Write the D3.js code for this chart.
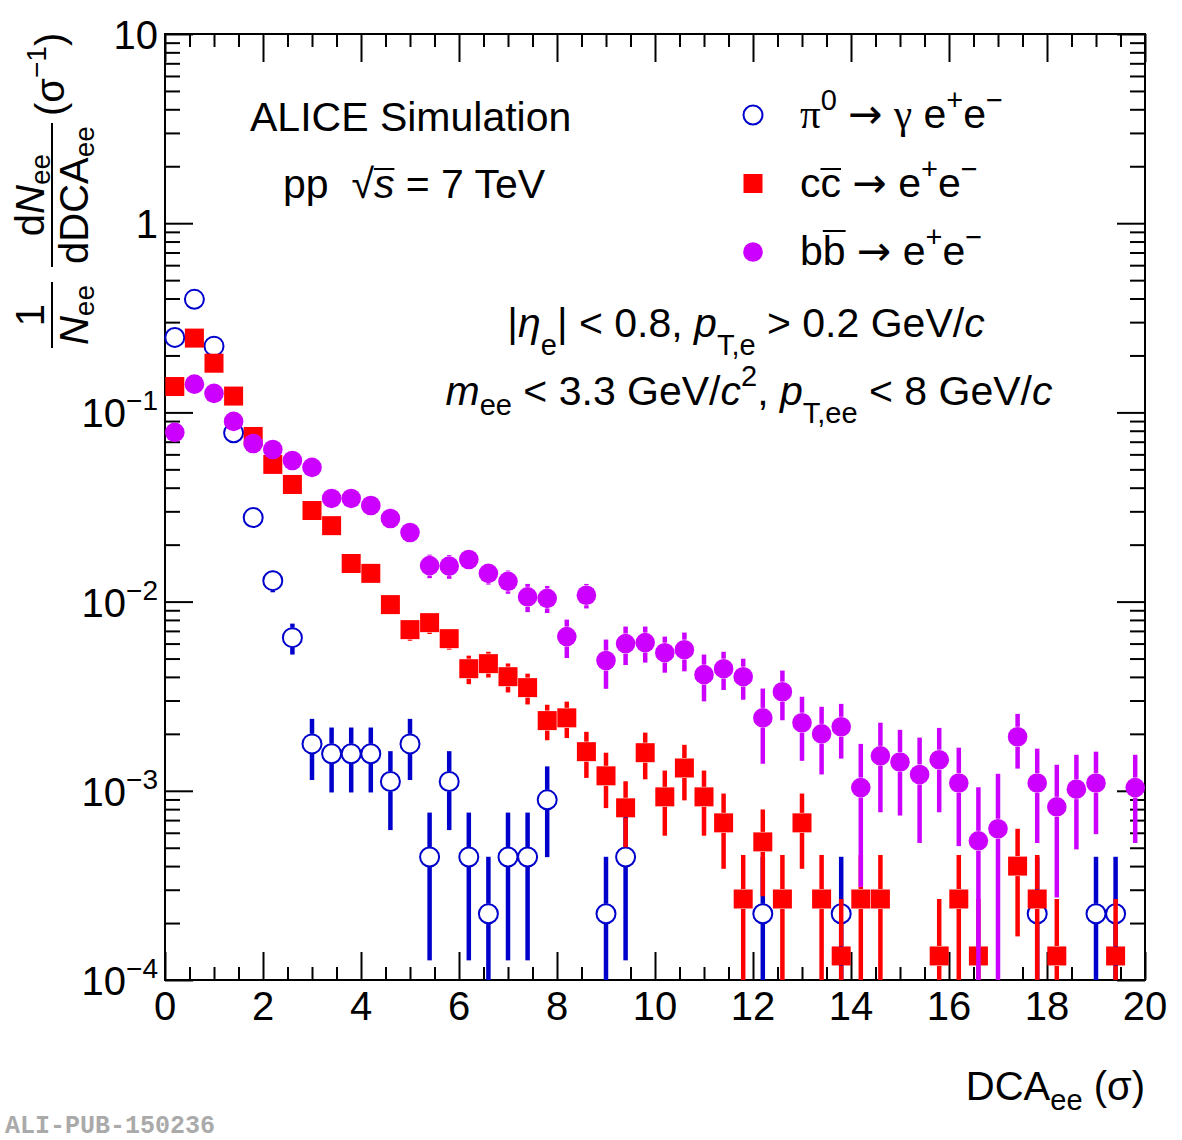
<!DOCTYPE html>
<html lang="en">
<head>
<meta charset="UTF-8">
<title>DCA_ee distributions</title>
<script src="https://d3js.org/d3.v7.min.js"></script>
<style>
  body { margin: 0; background: #fff; }
  svg { display: block; }
  text { font-family: "Liberation Sans", Arial, Helvetica, sans-serif; fill: #000; }
  .axis path { display: none; }
  .axis line { stroke: #000; stroke-width: 2px; }
</style>
</head>
<body>
<svg width="1182" height="1140"></svg>
<script>
// ---- data (bin centres of 0.4 sigma bins) ----
const pi0X = [0.2, 0.6, 1.0, 1.4, 1.8, 2.2, 2.6, 3.0, 3.4, 3.8, 4.2, 4.6, 5.0, 5.4, 5.8, 6.2, 6.6, 7.0, 7.4, 7.8,
              9.0, 9.4, 12.2, 13.8, 17.8, 19.0, 19.4];
const pi0Y = [0.249, 0.396, 0.224, 0.078, 0.0278, 0.0129, 0.00645, 0.00177, 0.00157, 0.00157, 0.00157, 0.00112,
              0.00177, 0.000447, 0.00112, 0.000447, 0.000224, 0.000447, 0.000447, 0.000896,
              0.000224, 0.000447, 0.000224, 0.000224, 0.000224, 0.000224, 0.000224];
const pi0Err = [0.0075, 0.0094, 0.0071, 0.0042, 0.0025, 0.0017, 0.0012, 0.00063, 0.00059, 0.00059, 0.00059, 0.0005,
                0.00063, 0.00032, 0.0005, 0.00032, 0.000224, 0.00032, 0.00032, 0.00045,
                0.000224, 0.00032, 0.000224, 0.000224, 0.000224, 0.000224, 0.000224];

const ccX = [0.2, 0.6, 1.0, 1.4, 1.8, 2.2, 2.6, 3.0, 3.4, 3.8, 4.2, 4.6, 5.0, 5.4, 5.8, 6.2, 6.6, 7.0, 7.4, 7.8,
             8.2, 8.6, 9.0, 9.4, 9.8, 10.2, 10.6, 11.0, 11.4, 11.8, 12.2, 12.6, 13.0, 13.4, 13.8, 14.2, 14.6,
             15.8, 16.2, 16.6, 17.4, 17.8, 18.2, 19.4];
const ccY = [0.137, 0.247, 0.182, 0.122, 0.0746, 0.0531, 0.0416, 0.0303, 0.0252, 0.0159, 0.0141, 0.00964, 0.00711,
             0.00774, 0.00637, 0.00442, 0.0047, 0.00401, 0.00351, 0.00235, 0.00243, 0.00161, 0.0012, 0.000813,
             0.00159, 0.000929, 0.00132, 0.000929, 0.000677, 0.000268, 0.000537, 0.000268, 0.000677, 0.000268,
             0.000134, 0.000268, 0.000268, 0.000134, 0.000268, 0.000134, 0.0004, 0.000268, 0.000134, 0.000134];
const ccErr = [0.0043, 0.0058, 0.0049, 0.004, 0.0032, 0.0027, 0.0024, 0.002, 0.0018, 0.0015, 0.0014, 0.0011, 0.0009,
               0.001, 0.0008, 0.00076, 0.00073, 0.0007, 0.00065, 0.0005, 0.00053, 0.00044, 0.00039, 0.00031,
               0.00044, 0.00035, 0.00043, 0.00035, 0.00029, 0.00019, 0.00026, 0.00019, 0.00029, 0.00019,
               0.000134, 0.00019, 0.00019, 0.000134, 0.00019, 0.000134, 0.00023, 0.00019, 0.000134, 0.000134];

const bbX = [0.2, 0.6, 1.0, 1.4, 1.8, 2.2, 2.6, 3.0, 3.4, 3.8, 4.2, 4.6, 5.0, 5.4, 5.8, 6.2, 6.6, 7.0, 7.4, 7.8,
             8.2, 8.6, 9.0, 9.4, 9.8, 10.2, 10.6, 11.0, 11.4, 11.8, 12.2, 12.6, 13.0, 13.4, 13.8, 14.2, 14.6,
             15.0, 15.4, 15.8, 16.2, 16.6, 17.0, 17.4, 17.8, 18.2, 18.6, 19.0, 19.8];
const bbY = [0.0784, 0.141, 0.126, 0.0896, 0.0685, 0.0637, 0.0557, 0.0512, 0.0351, 0.0351, 0.0322, 0.0275, 0.0232,
             0.0155, 0.0154, 0.0167, 0.0141, 0.0128, 0.0106, 0.0104, 0.00653, 0.0108, 0.00488, 0.006, 0.00607,
             0.00537, 0.00557, 0.00411, 0.00442, 0.00401, 0.00243, 0.00334, 0.00229, 0.002, 0.00218, 0.00104,
             0.00153, 0.00142, 0.00122, 0.00146, 0.0011, 0.000544, 0.00063, 0.00193, 0.0011, 0.000823, 0.00102,
             0.0011, 0.00104];
const bbErr = [0.0048, 0.0065, 0.0061, 0.0052, 0.0045, 0.0044, 0.0041, 0.0039, 0.0032, 0.0032, 0.0031, 0.0029, 0.0026,
               0.0022, 0.0022, 0.0019, 0.0018, 0.0018, 0.0018, 0.0017, 0.0015, 0.0016, 0.00142, 0.00138, 0.00131,
               0.00116, 0.00129, 0.00114, 0.00101, 0.00098, 0.00104, 0.00098, 0.00085, 0.00078, 0.0007, 0.00073,
               0.00076, 0.00068, 0.00069, 0.00069, 0.00059, 0.0005, 0.0006, 0.00062, 0.00057, 0.00055, 0.00053,
               0.00051, 0.00051];

const xTicks = [0, 2, 4, 6, 8, 10, 12, 14, 16, 18, 20];
const yTicks = [1e-4, 1e-3, 1e-2, 1e-1, 1, 10];
const yTickLabels = [["10", "−4"], ["10", "−3"], ["10", "−2"], ["10", "−1"], ["1", ""], ["10", ""]];

// ---- layout ----
const svg = d3.select("svg");
const X0 = 165, X1 = 1145, Y0 = 34, Y1 = 980;
const x = d3.scaleLinear().domain([0, 20]).range([X0, X1]);
const y = d3.scaleLog().domain([1e-4, 10]).range([Y1, Y0]);

const blue = "#0000cc", red = "#ff0000", violet = "#cc00ff";
const serif = "'Liberation Serif', 'Times New Roman', serif";
const arrowFont = "'DejaVu Sans', sans-serif";

// rich text helper: segments with optional sub/superscript shift, size, italic, font
function rich(parent, px, py, segs, o = {}) {
    const t = parent.append("text")
        .attr("x", px).attr("y", py)
        .attr("font-size", o.fs || 41)
        .attr("text-anchor", o.anchor || "start")
        .style("white-space", "pre");
    let cur = 0;
    segs.forEach(s => {
        const ts = t.append("tspan").text(s.t);
        const sh = s.sh || 0;
        if (sh !== cur) ts.attr("dy", sh - cur);
        cur = sh;
        if (s.sz) ts.attr("font-size", s.sz);
        if (s.it) ts.style("font-style", "italic");
        if (s.ff) ts.style("font-family", s.ff);
    });
    return t;
}

function overline(t, i0, i1, yy) {
    const n = t.node();
    const a = n.getStartPositionOfChar(i0).x;
    const b = n.getEndPositionOfChar(i1).x;
    svg.append("line").attr("x1", a).attr("x2", b).attr("y1", yy).attr("y2", yy)
        .attr("stroke", "#000").attr("stroke-width", 2);
}

// ---- axes (ticks inside the frame on all four sides) ----
const minorX = d3.range(0, 20.01, 0.5).filter(v => v % 2 !== 0);
const minorY = [];
[-4, -3, -2, -1, 0].forEach(p => { for (let k = 2; k <= 9; k++) minorY.push(k * Math.pow(10, p)); });

svg.append("g").attr("class", "axis").attr("transform", `translate(0,${Y1})`)
    .call(d3.axisBottom(x).tickValues(xTicks).tickSize(-28).tickSizeOuter(0).tickFormat(""));
svg.append("g").attr("class", "axis").attr("transform", `translate(0,${Y1})`)
    .call(d3.axisBottom(x).tickValues(minorX).tickSize(-13).tickSizeOuter(0).tickFormat(""));
svg.append("g").attr("class", "axis").attr("transform", `translate(0,${Y0})`)
    .call(d3.axisTop(x).tickValues(xTicks).tickSize(-28).tickSizeOuter(0).tickFormat(""));
svg.append("g").attr("class", "axis").attr("transform", `translate(0,${Y0})`)
    .call(d3.axisTop(x).tickValues(minorX).tickSize(-13).tickSizeOuter(0).tickFormat(""));

svg.append("g").attr("class", "axis").attr("transform", `translate(${X0},0)`)
    .call(d3.axisLeft(y).tickValues(yTicks).tickSize(-28).tickSizeOuter(0).tickFormat(""));
svg.append("g").attr("class", "axis").attr("transform", `translate(${X0},0)`)
    .call(d3.axisLeft(y).tickValues(minorY).tickSize(-15).tickSizeOuter(0).tickFormat(""));
svg.append("g").attr("class", "axis").attr("transform", `translate(${X1},0)`)
    .call(d3.axisRight(y).tickValues(yTicks).tickSize(-28).tickSizeOuter(0).tickFormat(""));
svg.append("g").attr("class", "axis").attr("transform", `translate(${X1},0)`)
    .call(d3.axisRight(y).tickValues(minorY).tickSize(-15).tickSizeOuter(0).tickFormat(""));

svg.append("rect").attr("x", X0).attr("y", Y0).attr("width", X1 - X0).attr("height", Y1 - Y0)
    .attr("fill", "none").attr("stroke", "#000").attr("stroke-width", 2);

// tick labels
svg.append("g").selectAll("text").data(xTicks).join("text")
    .attr("x", d => x(d)).attr("y", Y1 + 40)
    .attr("text-anchor", "middle").attr("font-size", 40)
    .text(d => d);

const yl = svg.append("g");
yTicks.forEach((v, i) => {
    const lab = yTickLabels[i];
    const segs = [{ t: lab[0] }];
    if (lab[1]) segs.push({ t: lab[1], sz: 28, sh: -17 });
    rich(yl, 158, y(v) + 15, segs, { fs: 40, anchor: "end" });
});

// axis titles
rich(svg, X1, 1100, [{ t: "DCA" }, { t: "ee", sz: 29, sh: 10 }, { t: " (σ)", sh: 0 }], { fs: 40, anchor: "end" });

const yt = svg.append("g").attr("transform", "translate(52,0) rotate(-90)");
rich(yt, -315, -8, [{ t: "1" }], { fs: 40, anchor: "middle" });
rich(yt, -315, 36, [{ t: "N", it: true }, { t: "ee", sz: 28, sh: 6 }], { fs: 40, anchor: "middle" });
yt.append("line").attr("x1", -348).attr("x2", -282).attr("y1", 0).attr("y2", 0)
    .attr("stroke", "#000").attr("stroke-width", 2);
rich(yt, -195, -8, [{ t: "d" }, { t: "N", it: true }, { t: "ee", sz: 28, sh: 6 }], { fs: 40, anchor: "middle" });
rich(yt, -195, 36, [{ t: "dDCA" }, { t: "ee", sz: 28, sh: 6 }], { fs: 40, anchor: "middle" });
yt.append("line").attr("x1", -267).attr("x2", -123).attr("y1", 0).attr("y2", 0)
    .attr("stroke", "#000").attr("stroke-width", 2);
rich(yt, -116, 12, [{ t: "(σ" }, { t: "−1", sz: 28, sh: -18 }, { t: ")", sh: 0 }], { fs: 40 });

// ---- series ----
function drawSeries(xs, ys, es, col, shape) {
    const g = svg.append("g");
    const gap = 10;
    const pts = xs.map((v, i) => {
        const cy = y(ys[i]);
        const up = Math.max(Y0, y(ys[i] + es[i]));
        const lo = ys[i] - es[i] > 1e-4 ? y(ys[i] - es[i]) : Y1;
        return { cx: x(v), cy: cy, up: up, lo: Math.min(Y1, lo) };
    });
    g.selectAll("line.up").data(pts.filter(p => p.up < p.cy - gap)).join("line")
        .attr("class", "up")
        .attr("x1", p => p.cx).attr("x2", p => p.cx)
        .attr("y1", p => p.up).attr("y2", p => p.cy - gap)
        .attr("stroke", col).attr("stroke-width", 4.5);
    g.selectAll("line.lo").data(pts.filter(p => p.lo > p.cy + gap)).join("line")
        .attr("class", "lo")
        .attr("x1", p => p.cx).attr("x2", p => p.cx)
        .attr("y1", p => p.cy + gap).attr("y2", p => p.lo)
        .attr("stroke", col).attr("stroke-width", 4.5);
    if (shape === "square") {
        g.selectAll("rect").data(pts).join("rect")
            .attr("x", p => p.cx - 9.5).attr("y", p => p.cy - 9.5)
            .attr("width", 19).attr("height", 19).attr("fill", col);
    } else if (shape === "open") {
        g.selectAll("circle").data(pts).join("circle")
            .attr("cx", p => p.cx).attr("cy", p => p.cy).attr("r", 9.5)
            .attr("fill", "none").attr("stroke", col).attr("stroke-width", 2);
    } else {
        g.selectAll("circle").data(pts).join("circle")
            .attr("cx", p => p.cx).attr("cy", p => p.cy).attr("r", 9.8)
            .attr("fill", col);
    }
}

drawSeries(pi0X, pi0Y, pi0Err, blue, "open");
drawSeries(ccX, ccY, ccErr, red, "square");
drawSeries(bbX, bbY, bbErr, violet, "filled");

// ---- legend ----
const lx = 753;
svg.append("circle").attr("cx", lx).attr("cy", 115).attr("r", 9.5)
    .attr("fill", "none").attr("stroke", blue).attr("stroke-width", 2);
svg.append("rect").attr("x", lx - 9.5).attr("y", 174).attr("width", 19).attr("height", 19).attr("fill", red);
svg.append("circle").attr("cx", lx).attr("cy", 252).attr("r", 9.8).attr("fill", violet);

rich(svg, 800, 128, [
    { t: "π", ff: serif }, { t: "0", sz: 29, sh: -18 }, { t: " " , sh: 0 }, { t: "→", ff: arrowFont },
    { t: " " }, { t: "γ", ff: serif }, { t: " e" }, { t: "+", sz: 29, sh: -18 }, { t: "e", sh: 0 },
    { t: "−", sz: 29, sh: -18 }]);
const l2 = rich(svg, 800, 197, [
    { t: "cc" }, { t: " " }, { t: "→", ff: arrowFont }, { t: " e" }, { t: "+", sz: 29, sh: -18 },
    { t: "e", sh: 0 }, { t: "−", sz: 29, sh: -18 }]);
overline(l2, 1, 1, 169);
const l3 = rich(svg, 800, 265, [
    { t: "bb" }, { t: " " }, { t: "→", ff: arrowFont }, { t: " e" }, { t: "+", sz: 29, sh: -18 },
    { t: "e", sh: 0 }, { t: "−", sz: 29, sh: -18 }]);
overline(l3, 1, 1, 231);

// ---- annotations ----
rich(svg, 250, 131, [{ t: "ALICE Simulation" }]);
const pp = rich(svg, 283, 198, [{ t: "pp  √" }, { t: "s", it: true }, { t: " = 7 TeV" }]);
overline(pp, 5, 5, 169);

rich(svg, 746, 337, [
    { t: "|" }, { t: "η", it: true }, { t: "e", sz: 29, sh: 18 }, { t: "| < 0.8, ", sh: 0 },
    { t: "p", it: true }, { t: "T,e", sz: 29, sh: 18 }, { t: " > 0.2 GeV/", sh: 0 }, { t: "c", it: true }],
    { anchor: "middle" });
rich(svg, 749, 405, [
    { t: "m", it: true }, { t: "ee", sz: 29, sh: 10 }, { t: " < 3.3 GeV/", sh: 0 }, { t: "c", it: true },
    { t: "2", sz: 29, sh: -19 }, { t: ", ", sh: 0 }, { t: "p", it: true }, { t: "T,ee", sz: 29, sh: 18 },
    { t: " < 8 GeV/", sh: 0 }, { t: "c", it: true }],
    { anchor: "middle" });

svg.append("text").attr("x", 5).attr("y", 1133)
    .style("font-family", "'Liberation Mono', 'Courier New', monospace")
    .style("font-weight", "bold").attr("font-size", 25)
    .style("fill", "#aaaaaa")
    .text("ALI-PUB-150236");
</script>
</body>
</html>
